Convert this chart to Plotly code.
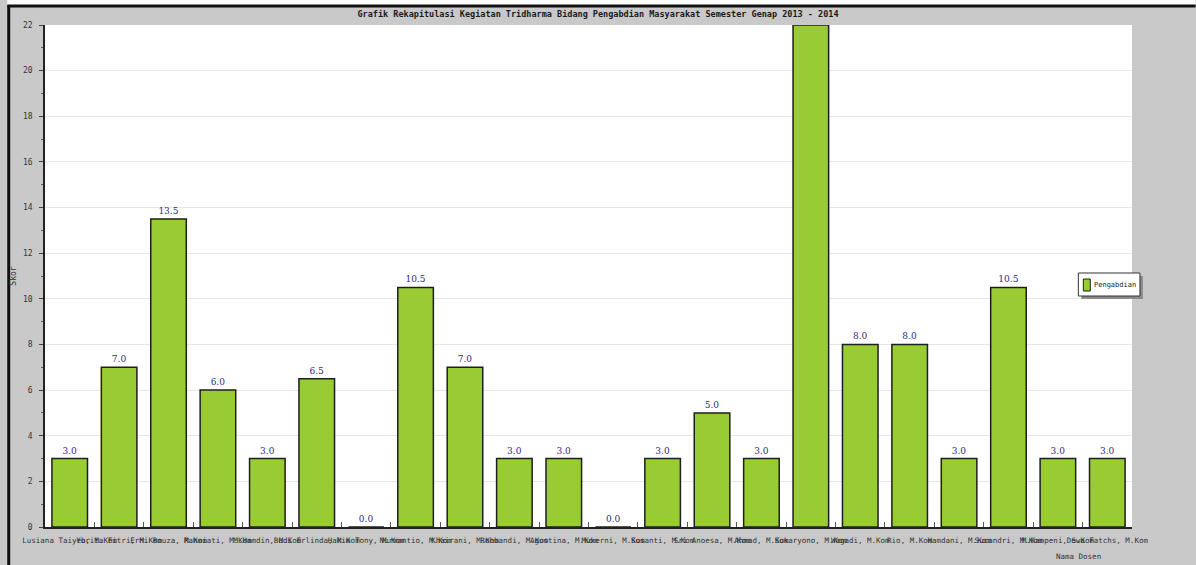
import plotly.graph_objects as go

# ---- data ----
dosen = [
    "Lusiana Taiyeb, M.Kom", "Yurita Fitri, M.Kom", "Erni Rouza, M.Kom", "Rahmiati, M.Kom",
    "M.Hamdin, M.Kom", "Budi Erlinda, M.Kom", "Hakim Tony, M.Kom", "Nurmantio, M.Kom",
    "Khairani, M.Kom", "Rohbandi, M.Kom", "Agustina, M.Kom", "Mukerni, M.Kom",
    "Susanti, M.Kom", "Sri Anoesa, M.Kom", "Ahmad, M.Kom", "Sukaryono, M.Kom",
    "Wagadi, M.Kom", "Rio, M.Kom", "Hamdani, M.Kom", "Sucandri, M.Kom",
    "M.Kampeni, S.Kom", "Dewa Fatchs, M.Kom",
]
skor = [3.0, 7.0, 13.5, 6.0, 3.0, 6.5, 0.0, 10.5, 7.0, 3.0, 3.0,
        0.0, 3.0, 5.0, 3.0, 22.0, 8.0, 8.0, 3.0, 10.5, 3.0, 3.0]
series_name = "Pengabdian"
title_text = "Grafik Rekapitulasi Kegiatan Tridharma Bidang Pengabdian Masyarakat Semester Genap 2013 - 2014"
y_ticks = list(range(0, 23, 2))
y_max = 22

# ---- layout constants (pixels) ----
W, H = 1196, 565
L, R, T, B = 38, 64, 25, 38
PW, PH = W - L - R, H - T - B
FONT = "DejaVu Sans Mono"
BAR_COLOR = "#99cc33"


def px(x):
    return (x - L) / PW


def py(y):
    return (H - B - y) / PH


# value labels; a label for a bar reaching the top of the axis falls outside the plot (cut off in the reference)
value_text = [f"{v:.1f}" if v < y_max else "" for v in skor]

fig = go.Figure()
fig.add_trace(go.Bar(
    x=dosen, y=skor, name=series_name,
    marker=dict(color=BAR_COLOR, line=dict(color="#1e1e1e", width=1.5)),
    text=value_text, textposition="outside", cliponaxis=True,
    textfont=dict(family="DejaVu Serif", size=9, color="#2b2b85"),
    showlegend=False,
))

fig.update_layout(
    width=W, height=H,
    margin=dict(l=L, r=R, t=T, b=B, pad=0),
    paper_bgcolor="#c9c9c9", plot_bgcolor="#ffffff",
    bargap=0.28,
    font=dict(family=FONT, size=8, color="#333333"),
    title=dict(text="<b>" + title_text + "</b>", x=0.5, xanchor="center",
               y=1 - 14 / H, yanchor="middle",
               font=dict(family=FONT, size=8.5, color="#1a1a1a")),
    xaxis=dict(
        type="category", tickmode="array", tickvals=dosen, ticktext=dosen,
        tickangle=0, ticks="inside", ticklen=5, tickson="boundaries",
        tickcolor="#555555", showline=True, linecolor="#222222", linewidth=1.5,
        showgrid=False, ticklabelstandoff=5,
        tickfont=dict(family=FONT, size=7.5, color="#333333"),
        range=[-0.5, len(dosen) - 0.5],
    ),
    yaxis=dict(
        range=[0, y_max], tickvals=y_ticks, ticks="outside", ticklen=4,
        tickcolor="#444444", showline=True, linecolor="#222222", linewidth=1.5,
        gridcolor="#e6e6e6", gridwidth=1, zeroline=False,
        ticklabelstandoff=5,
        tickfont=dict(family=FONT, size=8, color="#333333"),
        minor=dict(dtick=1, ticks="outside", ticklen=2, tickcolor="#666666", showgrid=False),
        title=dict(text="Skor", standoff=5, font=dict(family=FONT, size=8, color="#333333")),
    ),
    showlegend=False,
)

# x axis title placed bottom right as in reference
fig.add_annotation(text="Nama Dosen", x=px(1103), y=py(563), xref="paper", yref="paper",
                   yanchor="bottom", showarrow=False,
                   font=dict(family=FONT, size=7.5, color="#333333"))

# outer frame
fig.add_shape(type="rect", xref="paper", yref="paper", x0=px(0), x1=px(W), y0=py(0), y1=py(5),
              fillcolor="#ffffff", line=dict(width=0), layer="below")
fig.add_shape(type="line", xref="paper", yref="paper", x0=px(0), x1=px(W), y0=py(6), y1=py(6),
              line=dict(color="#111111", width=3))
fig.add_shape(type="line", xref="paper", yref="paper", x0=px(1.5), x1=px(1.5), y0=py(6), y1=py(H),
              line=dict(color="#111111", width=3))

# legend box (drawn to match the compact reference legend)
fig.add_shape(type="rect", xref="paper", yref="paper", x0=px(1081), x1=px(1143), y0=py(299), y1=py(276),
              fillcolor="#8a8a8a", line=dict(width=0))
fig.add_shape(type="rect", xref="paper", yref="paper", x0=px(1078), x1=px(1140), y0=py(296), y1=py(273),
              fillcolor="#ffffff", line=dict(color="#333333", width=1))
fig.add_shape(type="rect", xref="paper", yref="paper", x0=px(1083), x1=px(1090), y0=py(291), y1=py(279),
              fillcolor=BAR_COLOR, line=dict(color="#1e1e1e", width=1))
fig.add_annotation(text=series_name, x=px(1092), y=py(285), xref="paper", yref="paper",
                   xanchor="left", yanchor="middle", showarrow=False,
                   font=dict(family=FONT, size=7, color="#222222"))

fig.write_html("out.html")
